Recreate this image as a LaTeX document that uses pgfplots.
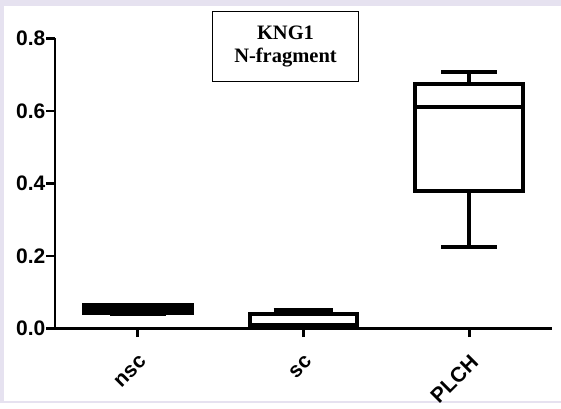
\documentclass[border=0pt]{standalone}
\usepackage{pgfplots}
\pgfplotsset{compat=1.18}
\usepackage{fontspec}
\setmainfont{Liberation Sans}
\newfontfamily\ticfont{Liberation Sans}
\newfontfamily\titlefont{Liberation Serif}
\definecolor{lav}{HTML}{E6E2F0}
\begin{document}
\begin{tikzpicture}
\fill[lav] (0bp,0bp) rectangle (561bp,403bp);
\fill[white] (4bp,2bp) rectangle (561bp,397bp);
\begin{axis}[
  at={(55bp,74.5bp)}, anchor=south west,
  scale only axis, width=497bp, height=290.2bp,
  xmin=-0.5, xmax=2.5, ymin=0, ymax=0.8,
  axis x line=bottom, axis y line=left,
  axis line style={-, line width=2.7bp, black},
  tick align=outside,
  major tick length=8.5bp,
  every tick/.style={line width=2.7bp, black},
  xtick={0,1,2}, xticklabels={nsc,sc,PLCH},
  ytick={0,0.2,0.4,0.6,0.8},
  yticklabels={0.0,0.2,0.4,0.6,0.8},
  ticklabel style={font=\ticfont\bfseries\fontsize{21bp}{24bp}\selectfont},
  xticklabel style={rotate=45, anchor=east, xshift=-8bp, yshift=-19bp},
  yticklabel style={inner sep=1bp},
  clip=false,
  bx/.style={draw=black, solid, line width=4bp, mark=none, line join=miter, fill=none},
]
% nsc: whiskers 0.041-0.066, box 0.044-0.064, median 0.055
\addplot[bx] coordinates {(-0.325,0.044) (0.325,0.044) (0.325,0.064) (-0.325,0.064)} -- cycle;
\addplot[bx] coordinates {(-0.325,0.055) (0.325,0.055)};
\addplot[bx] coordinates {(0,0.064) (0,0.066)};
\addplot[bx] coordinates {(0,0.044) (0,0.041)};
\addplot[bx] coordinates {(-0.17,0.066) (0.17,0.066)};
\addplot[bx] coordinates {(-0.17,0.041) (0.17,0.041)};
% sc: whiskers 0.002-0.0515, box 0.008-0.041, median 0.009
\addplot[bx] coordinates {(0.675,0.008) (1.325,0.008) (1.325,0.041) (0.675,0.041)} -- cycle;
\addplot[bx] coordinates {(0.675,0.009) (1.325,0.009)};
\addplot[bx] coordinates {(1,0.041) (1,0.0515)};
\addplot[bx] coordinates {(1,0.008) (1,0.002)};
\addplot[bx] coordinates {(0.82,0.0515) (1.18,0.0515)};
\addplot[bx] coordinates {(0.82,0.002) (1.18,0.002)};
% PLCH: whiskers 0.225-0.707, box 0.379-0.674, median 0.611
\addplot[bx] coordinates {(1.675,0.379) (2.325,0.379) (2.325,0.674) (1.675,0.674)} -- cycle;
\addplot[bx] coordinates {(1.675,0.611) (2.325,0.611)};
\addplot[bx] coordinates {(2,0.674) (2,0.707)};
\addplot[bx] coordinates {(2,0.379) (2,0.225)};
\addplot[bx] coordinates {(1.83,0.707) (2.17,0.707)};
\addplot[bx] coordinates {(1.83,0.225) (2.17,0.225)};
\end{axis}
\node[draw=black, line width=1bp, fill=white, minimum width=145.6bp, minimum height=70bp,
  align=center, inner sep=0pt,
  font=\titlefont\bfseries\fontsize{20.5bp}{23.3bp}\selectfont] at (285.5bp,356.3bp) {KNG1\\N-fragment};
\end{tikzpicture}
\end{document}
